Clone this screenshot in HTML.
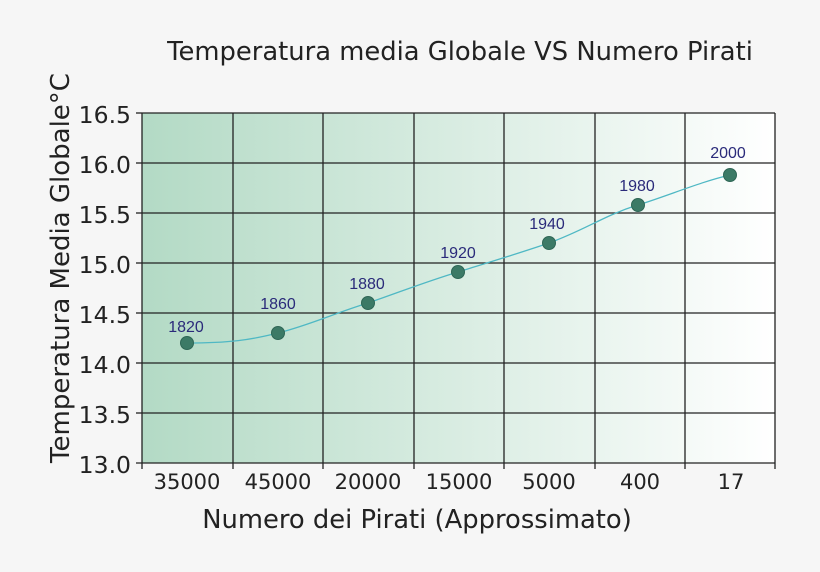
<!DOCTYPE html>
<html><head><style>body{margin:0;background:#f6f6f6;}svg{display:block}</style></head><body>
<svg width="820" height="572" xmlns="http://www.w3.org/2000/svg" font-family="'DejaVu Sans',sans-serif">
<defs><linearGradient id="g" x1="0" x2="1" y1="0" y2="0"><stop offset="0" stop-color="#b3dac5"/><stop offset="1" stop-color="#ffffff"/></linearGradient></defs>
<rect width="820" height="572" fill="#f6f6f6"/>
<rect x="142" y="113" width="633" height="350" fill="url(#g)"/>
<g stroke="#222" stroke-width="1.3">
<line x1="142" y1="113" x2="775" y2="113"/><line x1="142" y1="163" x2="775" y2="163"/><line x1="142" y1="213" x2="775" y2="213"/><line x1="142" y1="263" x2="775" y2="263"/><line x1="142" y1="313" x2="775" y2="313"/><line x1="142" y1="363" x2="775" y2="363"/><line x1="142" y1="413" x2="775" y2="413"/><line x1="136" y1="463" x2="775" y2="463"/>
<line x1="136" y1="113" x2="142" y2="113"/><line x1="136" y1="163" x2="142" y2="163"/><line x1="136" y1="213" x2="142" y2="213"/><line x1="136" y1="263" x2="142" y2="263"/><line x1="136" y1="313" x2="142" y2="313"/><line x1="136" y1="363" x2="142" y2="363"/><line x1="136" y1="413" x2="142" y2="413"/>
<line x1="142" y1="113" x2="142" y2="469"/><line x1="233" y1="113" x2="233" y2="469"/><line x1="323" y1="113" x2="323" y2="469"/><line x1="414" y1="113" x2="414" y2="469"/><line x1="504" y1="113" x2="504" y2="469"/><line x1="595" y1="113" x2="595" y2="469"/><line x1="685" y1="113" x2="685" y2="469"/><line x1="775" y1="113" x2="775" y2="469"/>
</g>
<path d="M187,343 C230,343 250,340 278,333 C310,325 335,313 368,303 C400,292 425,282 458,272 C490,262 520,253 549,243 C585,230 605,215 638,205 C670,195 700,182 730,175" fill="none" stroke="#4fb8c4" stroke-width="1.3"/>
<g fill="#3c7a66" stroke="#2e6655" stroke-width="1">
<circle cx="187" cy="343" r="6.5"/><circle cx="278" cy="333" r="6.5"/><circle cx="368" cy="303" r="6.5"/><circle cx="458" cy="272" r="6.5"/><circle cx="549" cy="243" r="6.5"/><circle cx="638" cy="205" r="6.5"/><circle cx="730" cy="175" r="6.5"/>
</g>
<g fill="#2a2a7a" font-size="16" text-anchor="middle" font-family="'Liberation Sans',sans-serif">
<text x="186" y="332">1820</text><text x="278" y="309">1860</text><text x="367" y="289">1880</text><text x="458" y="258">1920</text><text x="547" y="229">1940</text><text x="637" y="191">1980</text><text x="728" y="158">2000</text>
</g>
<g fill="#222" font-size="23.5" text-anchor="end">
<text x="131" y="123">16.5</text><text x="131" y="173">16.0</text><text x="131" y="223">15.5</text><text x="131" y="273">15.0</text><text x="131" y="323">14.5</text><text x="131" y="373">14.0</text><text x="131" y="423">13.5</text><text x="131" y="473">13.0</text>
</g>
<g fill="#222" font-size="21" text-anchor="middle">
<text x="187" y="489">35000</text><text x="278" y="489">45000</text><text x="368" y="489">20000</text><text x="459" y="489">15000</text><text x="549" y="489">5000</text><text x="640" y="489">400</text><text x="731" y="489">17</text>
</g>
<text x="417" y="528" font-size="25.8" text-anchor="middle" fill="#222">Numero dei Pirati (Approssimato)</text>
<text x="460" y="60" font-size="25.8" text-anchor="middle" fill="#222">Temperatura media Globale VS Numero Pirati</text>
<text transform="translate(69,268) rotate(-90)" font-size="26" text-anchor="middle" fill="#222">Temperatura Media Globale°C</text>
</svg>
</body></html>
